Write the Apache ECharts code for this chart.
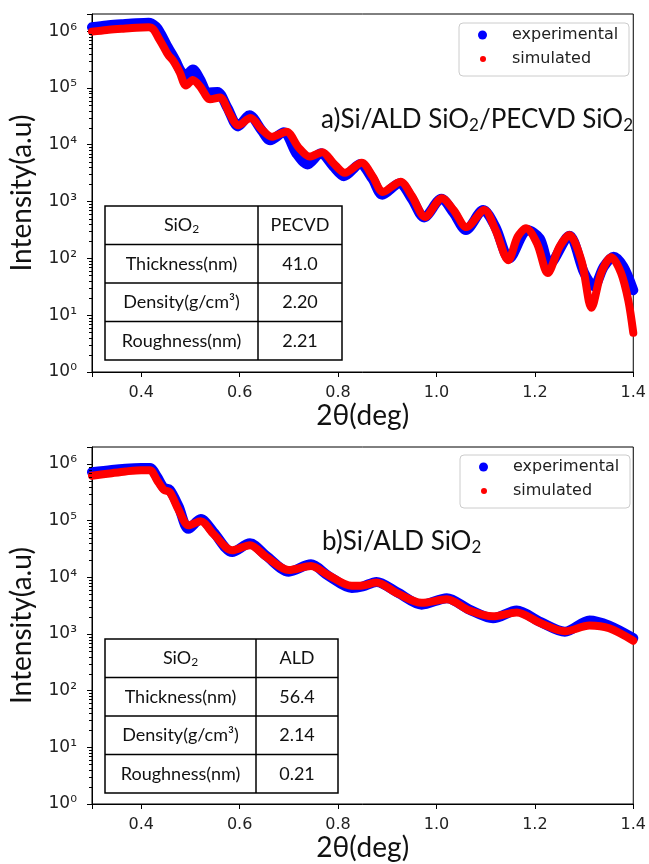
<!DOCTYPE html>
<html>
<head>
<meta charset="utf-8">
<script src="https://cdn.jsdelivr.net/npm/echarts@6/dist/echarts.min.js"></script>
<style>html,body{margin:0;padding:0;background:#fff}#c{width:649px;height:864px}</style>
</head>
<body>
<div id="c"></div>
<script>
// ---- Panel a) Si/ALD SiO2/PECVD SiO2 ----
const xA_exp = [0.30,0.33,0.36,0.39,0.415,0.43,0.44,0.452,0.462,0.47,0.48,0.49,0.505,0.52,0.535,0.555,0.575,0.597,0.62,0.645,0.662,0.69,0.715,0.738,0.765,0.79,0.812,0.845,0.87,0.89,0.925,0.95,0.975,1.01,1.035,1.06,1.095,1.12,1.148,1.185,1.21,1.23,1.27,1.30,1.32,1.34,1.36,1.38,1.40];
const yA_exp = [1.17e6,1.26e6,1.32e6,1.38e6,1.41e6,1.2e6,8.9e5,5.6e5,4.0e5,3.0e5,2.0e5,1.66e5,2.1e5,1.4e5,8.3e4,8.5e4,4.5e4,2.1e4,3.3e4,1.78e4,1.2e4,1.66e4,7.1e3,4.5e3,7.1e3,4.2e3,2.8e3,4.6e3,2.5e3,1.32e3,2.1e3,1.12e3,525,1120,631,316,708,355,100,316,224,79,251,56,32,71,107,71,27.5];
const xA_sim = [0.30,0.33,0.36,0.39,0.415,0.425,0.435,0.446,0.455,0.465,0.478,0.491,0.505,0.52,0.54,0.56,0.58,0.597,0.622,0.645,0.665,0.695,0.72,0.742,0.768,0.79,0.814,0.848,0.87,0.891,0.927,0.95,0.977,1.011,1.035,1.061,1.097,1.12,1.146,1.165,1.182,1.205,1.226,1.25,1.27,1.295,1.315,1.335,1.355,1.375,1.39,1.40];
const yA_sim = [9.8e5,1.05e6,1.1e6,1.15e6,1.17e6,1.07e6,7.6e5,5.2e5,3.8e5,3.0e5,1.9e5,1.1e5,1.38e5,1.05e5,6.3e4,6.8e4,3.5e4,2.2e4,2.95e4,1.86e4,1.38e4,1.7e4,8.9e3,6.2e3,7.4e3,4.8e3,3.2e3,4.8e3,2.8e3,1.48e3,2.24e3,1.26e3,537,1148,708,355,708,316,93,240,339,178,55,160,257,89,13.5,56,105,56,18,4.9];

// ---- Panel b) Si/ALD SiO2 ----
const xB = [0.30,0.34,0.368,0.40,0.418,0.432,0.446,0.458,0.476,0.496,0.521,0.547,0.585,0.621,0.654,0.70,0.745,0.78,0.828,0.85,0.878,0.921,0.97,1.021,1.067,1.115,1.163,1.212,1.261,1.311,1.351,1.40];
const yB_exp = [7.2e5,7.9e5,8.3e5,8.5e5,8.5e5,6.0e5,3.8e5,3.5e5,1.78e5,7.2e4,1.07e5,6.3e4,2.8e4,4.0e4,2.4e4,1.26e4,1.7e4,1.07e4,6.5e3,6.9e3,8.3e3,5.4e3,3.3e3,4.3e3,2.7e3,1.9e3,2.6e3,1.62e3,1.1e3,1.74e3,1.41e3,850];
const yB_sim = [6.2e5,6.9e5,7.4e5,7.8e5,7.8e5,5.2e5,3.5e5,3.2e5,1.55e5,8.3e4,9.8e4,5.8e4,3.0e4,3.7e4,2.3e4,1.35e4,1.58e4,1.1e4,7.1e3,7.2e3,8.1e3,5.2e3,3.55e3,4.1e3,2.6e3,2.05e3,2.4e3,1.55e3,1.12e3,1.41e3,1.26e3,760];

// ---- texts ----
const seriesNames = ['experimental','simulated'];
const panelLabels = ['a)Si/ALD SiO₂/PECVD SiO₂','b)Si/ALD SiO₂'];
const tableA = [['SiO₂','PECVD'],['Thickness(nm)','41.0'],['Density(g/cm³)','2.20'],['Roughness(nm)','2.21']];
const tableB = [['SiO₂','ALD'],['Thickness(nm)','56.4'],['Density(g/cm³)','2.14'],['Roughness(nm)','0.21']];
const xTitle = '2θ(deg)';
const yTitle = 'Intensity(a.u)';

const BLUE = '#0000ff', RED = '#ff0000';
const TXT_FONT = 'Lato, "Open Sans", sans-serif';
const TICK_FONT = '"DejaVu Sans", sans-serif';
const sup = {'0':'⁰','1':'¹','2':'²','3':'³','4':'⁴','5':'⁵','6':'⁶','7':'⁷'};

// log-axis minor tick positions (2..9 x 10^k) inside the 1 .. 2e6 range
const minorTickVals = [];
for (let k = 0; k <= 6; k++) for (let m = 2; m <= 9; m++) { const v = m * Math.pow(10, k); if (v < 2e6) minorTickVals.push(v); }

function pairs(xs, ys){ return xs.map((x,i)=>[x, ys[i]]); }
function toRich(s){ return s.replace(/₂/g, '{s|2}'); }
function yFmt(v){
  const e = Math.log10(v); const r = Math.round(e);
  if (Math.abs(e - r) > 1e-6) return '';
  return '10' + sup[String(r)];
}

const panels = [
  {top:14, height:358, exp:pairs(xA_exp,yA_exp), sim:pairs(xA_sim,yA_sim), table:tableA, label:panelLabels[0], nameGap:26,
   lab:{x:321,y:120}, tab:{x0:105,x1:258,x2:342,y0:206,rh:38.5}, leg:{x:459,y:23}},
  {top:447, height:357, exp:pairs(xB,yB_exp), sim:pairs(xB,yB_sim), table:tableB, label:panelLabels[1], nameGap:30,
   lab:{x:322,y:542}, tab:{x0:105,x1:256,x2:338,y0:639,rh:38.5}, leg:{x:460,y:455}}
];

const grids = [], xAxes = [], yAxes = [], series = [], legends = [], graphics = [];
panels.forEach((p, i) => {
  grids.push({left:86, top:p.top, width:551, height:p.height, show:true, borderColor:'#000', borderWidth:1, backgroundColor:'transparent'});
  xAxes.push({
    type:'value', gridIndex:i, min:0.3, max:1.4,
    axisLine:{show:true, onZero:false, lineStyle:{color:'#000', width:1}},
    axisTick:{show:true, length:5, lineStyle:{color:'#000'}},
    splitLine:{show:false},
    axisLabel:{fontFamily:TICK_FONT, fontSize:16, color:'#222', margin:13,
      formatter:v => Math.abs(v-0.3) < 1e-9 ? '' : v.toFixed(1)},
    name:xTitle, nameLocation:'middle', nameGap:p.nameGap,
    nameTextStyle:{fontFamily:TXT_FONT, fontSize:28, color:'#111'}
  });
  yAxes.push({
    type:'log', logBase:10, gridIndex:i, min:1, max:2e6, splitNumber:6,
    axisLine:{show:true, lineStyle:{color:'#000', width:1}},
    axisTick:{show:true, length:5, lineStyle:{color:'#000'}},
    splitLine:{show:false},
    axisLabel:{fontFamily:TICK_FONT, fontSize:17, color:'#222', margin:15, formatter:yFmt},
    name:yTitle, nameLocation:'middle', nameGap:56,
    nameTextStyle:{fontFamily:TXT_FONT, fontSize:28, color:'#111'}
  });
  series.push({
    type:'line', name:seriesNames[0], xAxisIndex:i, yAxisIndex:i, data:p.exp,
    showSymbol:false, symbol:'circle', smooth:0.3, z:2, silent:true,
    itemStyle:{color:BLUE}, lineStyle:{color:BLUE, width:10, cap:'round', join:'round'}
  });
  series.push({
    type:'line', name:seriesNames[1], xAxisIndex:i, yAxisIndex:i, data:p.sim,
    showSymbol:false, symbol:'circle', smooth:0.3, z:3, silent:true,
    itemStyle:{color:RED}, lineStyle:{color:RED, width:8, cap:'round', join:'round'}
  });
  // legend box
  graphics.push({type:'rect', z:5, shape:{x:p.leg.x, y:p.leg.y, width:170, height:53, r:4},
    style:{fill:'rgba(255,255,255,0.85)', stroke:'#cccccc', lineWidth:1}});
  legends.push({data:[seriesNames[0]], left:p.leg.x+19, top:p.leg.y+4, padding:0, z:10,
    icon:'circle', itemWidth:9, itemHeight:9, selectedMode:false,
    textStyle:{fontFamily:TICK_FONT, fontSize:16, color:'#222', padding:[0,0,0,20]}});
  legends.push({data:[seriesNames[1]], left:p.leg.x+21, top:p.leg.y+28, padding:0, z:10,
    icon:'circle', itemWidth:6, itemHeight:6, selectedMode:false,
    textStyle:{fontFamily:TICK_FONT, fontSize:16, color:'#222', padding:[0,0,0,21]}});
  // panel label
  graphics.push({type:'text', z:6, x:p.lab.x, y:p.lab.y,
    style:{text:toRich(p.label), fontFamily:TXT_FONT, fontSize:26, fill:'#111',
      verticalAlign:'middle', align:'left',
      rich:{s:{fontFamily:TXT_FONT, fontSize:17, fill:'#111', padding:[11,0,0,0]}}}});
  // table
  const t = p.tab, nr = p.table.length;
  graphics.push({type:'rect', z:6, shape:{x:t.x0, y:t.y0, width:t.x2-t.x0, height:t.rh*nr},
    style:{fill:'#fff', stroke:'#000', lineWidth:1.5}});
  graphics.push({type:'line', z:7, shape:{x1:t.x1, y1:t.y0, x2:t.x1, y2:t.y0+t.rh*nr}, style:{stroke:'#000', lineWidth:1.5}});
  for (let r = 1; r < nr; r++) {
    graphics.push({type:'line', z:7, shape:{x1:t.x0, y1:t.y0+t.rh*r, x2:t.x2, y2:t.y0+t.rh*r}, style:{stroke:'#000', lineWidth:1.5}});
  }
  p.table.forEach((row, r) => {
    const cy = t.y0 + t.rh*(r+0.5);
    [[row[0], (t.x0+t.x1)/2], [row[1], (t.x1+t.x2)/2]].forEach(([txt, cx]) => {
      graphics.push({type:'text', z:8, x:cx, y:cy,
        style:{text:toRich(txt), fontFamily:TXT_FONT, fontSize:18, fill:'#111', align:'center', verticalAlign:'middle',
          rich:{s:{fontFamily:TXT_FONT, fontSize:12, fill:'#111', padding:[8,0,0,0]}}}});
    });
  });
});

const chart = echarts.init(document.getElementById('c'), null, {renderer:'canvas'});
chart.setOption({
  animation:false,
  backgroundColor:'#fff',
  grid:grids, xAxis:xAxes, yAxis:yAxes, series:series, legend:legends
});
// minor ticks on the log y axes, positioned through the library's own scale
panels.forEach((p, i) => {
  minorTickVals.forEach(v => {
    const pt = chart.convertToPixel({gridIndex:i}, [0.3, v]);
    const y = Math.round(pt[1]) + 0.5;
    graphics.push({type:'line', z:4, silent:true, shape:{x1:pt[0]-3, y1:y, x2:pt[0], y2:y}, style:{stroke:'#000', lineWidth:1}});
  });
});
chart.setOption({graphic:graphics});
</script>
</body>
</html>
